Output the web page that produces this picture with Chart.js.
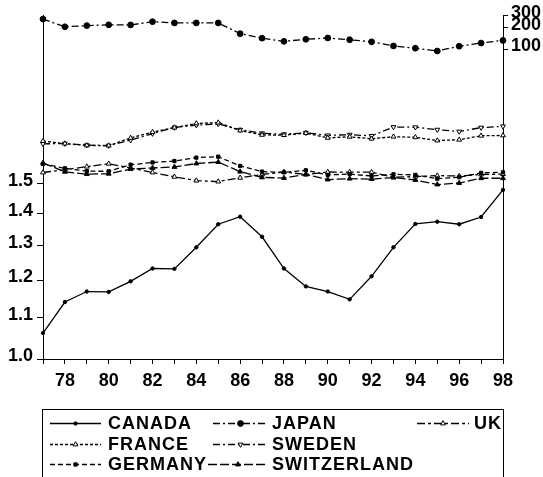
<!DOCTYPE html>
<html><head><meta charset="utf-8">
<script src="https://cdn.jsdelivr.net/npm/chart.js@4.4.1/dist/chart.umd.min.js"></script>
<style>html,body{margin:0;padding:0;background:#fff;overflow:hidden}#wrap{width:543px;height:477px;position:relative}</style>
</head><body><div id="wrap"><canvas id="c" width="543" height="477"></canvas></div>
<script>
// ---- data ----
const years = [1977,1978,1979,1980,1981,1982,1983,1984,1985,1986,1987,1988,1989,1990,1991,1992,1993,1994,1995,1996,1997,1998];
const canada = [1.062,1.141,1.169,1.168,1.197,1.233,1.232,1.295,1.366,1.390,1.327,1.233,1.183,1.169,1.148,1.211,1.295,1.367,1.374,1.366,1.389,1.479];
const japan = [268,208,216,222,221,246,236,236,236,166,143,129,138,144,136,127,111,103,94,110,122,133];
const france = [4.91,4.51,4.25,4.23,5.43,6.57,7.62,8.74,8.98,6.93,6.01,5.96,6.38,5.45,5.64,5.29,5.66,5.55,4.99,5.12,5.84,5.90];
const sweden = [4.48,4.52,4.29,4.23,5.06,6.28,7.67,8.27,8.60,7.12,6.34,6.13,6.45,5.92,6.05,5.82,7.78,7.72,7.13,6.71,7.63,7.95];
const germany = [2.32,2.01,1.83,1.82,2.26,2.43,2.55,2.85,2.94,2.17,1.80,1.76,1.88,1.62,1.66,1.56,1.65,1.62,1.43,1.50,1.73,1.76];
const switzerland = [2.40,1.79,1.66,1.68,1.96,2.03,2.10,2.35,2.46,1.80,1.49,1.46,1.64,1.39,1.43,1.41,1.48,1.37,1.18,1.24,1.45,1.45];
const uk = [1.75,1.92,2.12,2.33,2.03,1.75,1.52,1.34,1.30,1.47,1.64,1.78,1.64,1.78,1.77,1.77,1.50,1.53,1.58,1.56,1.64,1.66];
const leftTicks = [1.0,1.1,1.2,1.3,1.4,1.5];
const rightTicks = [100,200,300];

const FAM = "'Liberation Sans', Arial, sans-serif";
Chart.defaults.font = {family: FAM, size: 18, weight: 'bold'};
Chart.defaults.color = '#000';

function ds(label, data, axis, dash, style, radius, filled, rotation) {
  return {label, data, yAxisID: axis, borderColor: '#000', borderWidth: 1.3, borderDash: dash,
    pointStyle: style, pointRadius: radius, pointHoverRadius: radius,
    pointBackgroundColor: filled ? '#000' : '#fff', pointBorderColor: '#000', pointBorderWidth: 1,
    pointRotation: rotation || 0, tension: 0, fill: false};
}

const datasets = [
  ds('CANADA', canada, 'yL', [], 'circle', 1.7, true),
  ds('JAPAN', japan, 'yR', [7,3,2,3], 'circle', 2.9, true),
  ds('FRANCE', france, 'yR', [3,2], 'triangle', 2.8, false),
  ds('SWEDEN', sweden, 'yR', [7,3,2,3], 'triangle', 2.8, false, 180),
  ds('GERMANY', germany, 'yR', [5,3], 'rect', 2.3, true),
  ds('SWITZERLAND', switzerland, 'yR', [9,3], 'triangle', 2.8, true),
  ds('UK', uk, 'yR', [8,3,3,3], 'triangle', 2.8, false)
];

const legendPlugin = {
  id: 'boxLegend',
  afterDraw(chart) {
    const ctx = chart.ctx;
    ctx.save();
    ctx.strokeStyle = '#000'; ctx.lineWidth = 1; ctx.setLineDash([]);
    ctx.strokeRect(42.5, 409.5, 461, 90);
    // [datasetIndex, lineStart, lineEnd, textX, rowY]
    const items = [[0,50,101,108,423],[1,213,268,272,423],[6,417,469,474,423],
                   [2,50,101,108,444],[3,213,268,272,444],
                   [4,50,101,108,464],[5,208,268,272,464]];
    items.forEach(([i,x1,x2,tx,y]) => {
      const d = chart.data.datasets[i];
      ctx.strokeStyle = '#000'; ctx.lineWidth = d.borderWidth;
      ctx.setLineDash(d.borderDash);
      ctx.beginPath(); ctx.moveTo(x1, y + 0.5); ctx.lineTo(x2, y + 0.5); ctx.stroke();
      ctx.setLineDash([]);
      ctx.fillStyle = d.pointBackgroundColor; ctx.strokeStyle = '#000'; ctx.lineWidth = 1;
      Chart.helpers.drawPoint(ctx, {pointStyle: d.pointStyle, radius: d.pointRadius, rotation: d.pointRotation, borderWidth: 1}, (x1 + x2) / 2, y + 0.5);
      ctx.fillStyle = '#000';
      ctx.font = 'bold 18px ' + FAM;
      if ('letterSpacing' in ctx) ctx.letterSpacing = '1px';
      ctx.textBaseline = 'middle'; ctx.textAlign = 'left';
      ctx.fillText(d.label, tx, y + 1);
      if ('letterSpacing' in ctx) ctx.letterSpacing = '0px';
    });
    ctx.restore();
  }
};

new Chart(document.getElementById('c'), {
  type: 'line',
  data: {labels: years, datasets},
  options: {
    responsive: false, animation: false,
    layout: {padding: {top: 15, bottom: 78, left: 0, right: 0}},
    plugins: {legend: {display: false}, tooltip: {enabled: false}},
    scales: {
      x: {
        type: 'category', offset: false,
        grid: {display: true, drawOnChartArea: false, drawTicks: true, tickLength: 5, color: '#000'},
        border: {display: true, color: '#000', width: 1},
        ticks: {autoSkip: false, maxRotation: 0, minRotation: 0, padding: 6,
          callback: function(v, i) { const y = years[i]; return y % 2 === 0 ? String(y).slice(2) : ''; }},
        afterFit: s => { s.height = 40; }
      },
      yL: {
        type: 'logarithmic', position: 'left', min: 1.0, max: 2.217,
        grid: {display: true, drawOnChartArea: false, drawTicks: true, tickLength: 6, color: '#000'},
        border: {display: true, color: '#000', width: 1},
        afterBuildTicks: s => { s.ticks = leftTicks.map(v => ({value: v})); },
        ticks: {padding: 4, labelOffset: -3, callback: v => Number(v).toFixed(1)},
        afterFit: s => { s.width = 43; }
      },
      yR: {
        type: 'logarithmic', position: 'right', min: 0.00387, max: 306,
        grid: {display: true, drawOnChartArea: false, drawTicks: true, tickLength: 5, color: '#000'},
        border: {display: true, color: '#000', width: 1},
        afterBuildTicks: s => { s.ticks = rightTicks.map(v => ({value: v})); },
        ticks: {padding: 3, labelOffset: -3, callback: v => String(v)},
        afterFit: s => { s.width = 40; }
      }
    }
  },
  plugins: [legendPlugin]
});
</script>
</body></html>
